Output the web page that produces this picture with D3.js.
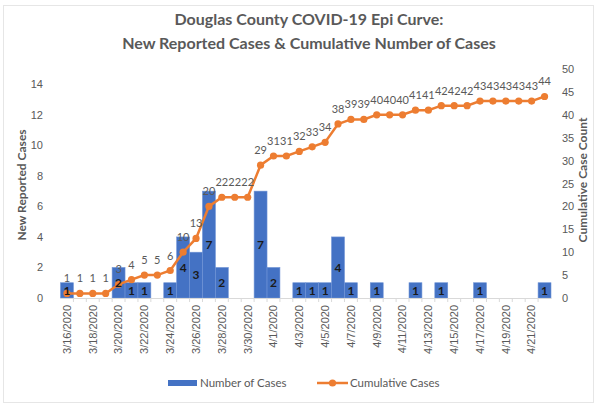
<!DOCTYPE html>
<html><head><meta charset="utf-8">
<script src="https://cdn.jsdelivr.net/npm/d3@7"></script>
<style>body{margin:0;background:#fff}svg{display:block;font-family:Lato,"Open Sans",sans-serif}</style>
</head><body><svg id="c" width="595" height="404"></svg>
<script>
const dates = ["3/16/2020","3/17/2020","3/18/2020","3/19/2020","3/20/2020","3/21/2020","3/22/2020","3/23/2020","3/24/2020","3/25/2020","3/26/2020","3/27/2020","3/28/2020","3/29/2020","3/30/2020","3/31/2020","4/1/2020","4/2/2020","4/3/2020","4/4/2020","4/5/2020","4/6/2020","4/7/2020","4/8/2020","4/9/2020","4/10/2020","4/11/2020","4/12/2020","4/13/2020","4/14/2020","4/15/2020","4/16/2020","4/17/2020","4/18/2020","4/19/2020","4/20/2020","4/21/2020","4/22/2020"];
const newCases = [1,0,0,0,2,1,1,0,1,4,3,7,2,0,0,7,2,0,1,1,1,4,1,0,1,0,0,1,0,1,0,0,1,0,0,0,0,1];
const cumulative = [1,1,1,1,3,4,5,5,6,10,13,20,22,22,22,29,31,31,32,33,34,38,39,39,40,40,40,41,41,42,42,42,43,43,43,43,43,44];
const leftTicks = [0,2,4,6,8,10,12,14];
const rightTicks = [0,5,10,15,20,25,30,35,40,45,50];
const titleLines = ["Douglas County COVID-19 Epi Curve:","New Reported Cases & Cumulative Number of Cases"];

const svg = d3.select("#c");
const gray = "#595959", blue = "#4472C4", orange = "#ED7D31";
const x = d3.scaleBand().domain(dates).range([60.5, 551]).padding(0);
const yL = d3.scaleLinear().domain([0,15]).range([298,69]);
const yR = d3.scaleLinear().domain([0,50]).range([298,69]);

svg.append("rect").attr("x",3.5).attr("y",5.5).attr("width",590).attr("height",397).attr("fill","none").attr("stroke","#e6e6e6");

svg.selectAll(".t").data(titleLines).join("text")
  .attr("x",309).attr("y",(d,i)=>25+i*24).attr("text-anchor","middle")
  .attr("font-size",16).attr("font-weight","bold").attr("fill",gray).text(d=>d);

// bars
svg.append("g").selectAll("rect").data(dates).join("rect")
  .attr("x",d=>x(d)).attr("width",x.bandwidth())
  .attr("y",(d,i)=>yL(newCases[i])).attr("height",(d,i)=>yL(0)-yL(newCases[i]))
  .attr("fill",blue).attr("stroke","#6f93d6").attr("stroke-width",0.6);

// x axis
const xAxis = d3.axisBottom(x).tickSize(0).tickFormat((d,i)=> i%2===0 ? d : "");
const gx = svg.append("g").attr("transform","translate(0,298)").call(xAxis);
gx.select(".domain").attr("stroke","#d9d9d9");
gx.selectAll("text").attr("fill",gray).attr("font-size",11)
  .attr("transform","rotate(-90)").attr("text-anchor","end").attr("x",-7).attr("y",0).attr("dy","0.35em");
svg.append("g").selectAll("line").data(dates.slice(1)).join("line")
  .attr("x1",d=>x(d)).attr("x2",d=>x(d)).attr("y1",298).attr("y2",302).attr("stroke","#d9d9d9");

// left axis
const gl = svg.append("g").attr("transform","translate(46,0)").call(d3.axisLeft(yL).tickValues(leftTicks).tickSize(0));
gl.select(".domain").remove();
gl.selectAll("text").attr("fill",gray).attr("font-size",11);
// right axis
const gr = svg.append("g").attr("transform","translate(559,0)").call(d3.axisRight(yR).tickValues(rightTicks).tickSize(0));
gr.select(".domain").remove();
gr.selectAll("text").attr("fill",gray).attr("font-size",11);

svg.append("text").attr("transform","translate(26,185) rotate(-90)").attr("text-anchor","middle")
  .attr("font-size",12).attr("font-weight","bold").attr("fill",gray).text("New Reported Cases");
svg.append("text").attr("transform","translate(587,180) rotate(-90)").attr("text-anchor","middle")
  .attr("font-size",12).attr("font-weight","bold").attr("fill",gray).text("Cumulative Case Count");

// line
const line = d3.line().x((d,i)=>x(dates[i])+x.bandwidth()/2).y(d=>yR(d));
svg.append("path").datum(cumulative).attr("d",line).attr("fill","none").attr("stroke",orange).attr("stroke-width",2.5);
svg.append("g").selectAll("circle").data(cumulative).join("circle")
  .attr("cx",(d,i)=>x(dates[i])+x.bandwidth()/2).attr("cy",d=>yR(d)).attr("r",3.6).attr("fill",orange);

// bar labels
svg.append("g").selectAll("text").data(newCases.map((v,i)=>({v,i})).filter(d=>d.v>0)).join("text")
  .attr("x",d=>x(dates[d.i])+x.bandwidth()/2).attr("y",d=>(yL(d.v)+yL(0))/2).attr("dy","0.35em")
  .attr("text-anchor","middle").attr("font-size",12).attr("font-weight","bold").attr("fill","#1a1a1a").text(d=>d.v);

// cumulative labels
svg.append("g").selectAll("text").data(cumulative).join("text")
  .attr("x",(d,i)=>x(dates[i])+x.bandwidth()/2).attr("y",d=>yR(d)-11)
  .attr("text-anchor","middle").attr("font-size",11).attr("fill",gray).text(d=>d);

// legend
const lg = svg.append("g");
lg.append("rect").attr("x",168).attr("y",380).attr("width",29).attr("height",6).attr("fill",blue);
lg.append("text").attr("x",200).attr("y",383).attr("dy","0.35em").attr("font-size",11.5).attr("fill",gray).text("Number of Cases");
lg.append("line").attr("x1",317).attr("x2",348).attr("y1",383).attr("y2",383).attr("stroke",orange).attr("stroke-width",2.5);
lg.append("circle").attr("cx",332.5).attr("cy",383).attr("r",3.6).attr("fill",orange);
lg.append("text").attr("x",350).attr("y",383).attr("dy","0.35em").attr("font-size",11.5).attr("fill",gray).text("Cumulative Cases");
</script></body></html>
